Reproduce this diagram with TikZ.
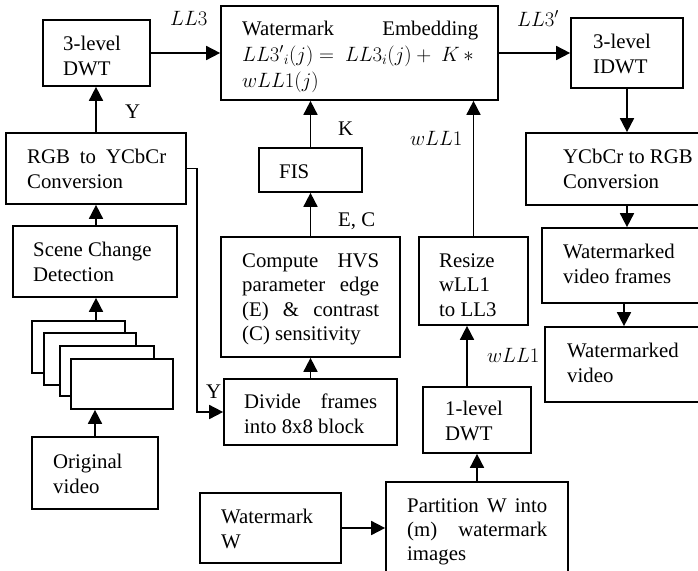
\documentclass[tikz,border=0pt]{standalone}
\usepackage{fontspec}
\setmainfont{Liberation Serif}
\usetikzlibrary{arrows.meta,calc}
\newcommand{\bx}[5]{\node[box, minimum width={#4-#2}, minimum height={#5-#3}] (#1) at ({(#2+#4)/2},{(#3+#5)/2}) {};}
\begin{document}
\begin{tikzpicture}[x=1pt,y=-1pt,
  box/.style={draw, line width=1.7pt, inner sep=0pt, fill=white},
  txt/.style={inner sep=0pt, anchor=base west, font=\fontsize{20.8}{25}\selectfont},
  arr/.style={line width=1.7pt, -{Triangle[length=14pt,width=14pt]}},
  ln/.style={line width=1.7pt}
]
\useasboundingbox (0,0) rectangle (698,570);

% boxes
\bx{dwt3}{43}{20}{150}{86}
\bx{emb}{221}{6}{498}{100}
\bx{idwt}{571}{18}{683}{88}
\bx{rgb}{6}{133}{186}{204}
\bx{scene}{13}{226}{177}{297}
\bx{ra}{32}{321}{125}{373}
\bx{rb}{44}{333}{136}{385}
\bx{rc}{60}{346}{154}{396}
\bx{rd}{71}{359}{173}{409}
\bx{orig}{32}{437}{158}{509}
\bx{fis}{259}{148}{362}{192}
\bx{hvs}{221}{237}{400}{357}
\bx{divide}{224}{379}{397}{445}
\bx{resize}{419}{237}{528}{325}
\bx{dwt1}{423}{387}{531}{453}
\bx{part}{386}{482}{568}{580}
\bx{wm}{200}{493}{341}{563}
\bx{ycbcr}{526}{133}{705}{205}
\bx{wmvf}{542}{228}{705}{303}
\bx{wmv}{545}{327}{705}{402}

% texts
\node[txt] (dwt3t) at (63,50) {\parbox[t]{150pt}{3-level\\DWT}};
\node[txt, font=\fontsize{20.8}{26}\selectfont] (embt) at (242,35) {\parbox[t]{240pt}{\makebox[236pt][s]{Watermark Embedding}\\$LL3'{}_i(j) =\ LL3_i(j) +\ K\,{\ast}$\\$wLL1(j)$}};
\node[txt] (idwtt) at (593,48) {\parbox[t]{150pt}{3-level\\IDWT}};
\node[txt] (rgbt) at (27,163) {\parbox[t]{150pt}{\makebox[139pt][s]{RGB to YCbCr}\\Conversion}};
\node[txt] (scenet) at (33,256) {\parbox[t]{150pt}{Scene Change\\Detection}};
\node[txt] (origt) at (53,468) {\parbox[t]{150pt}{Original\\video}};
\node[txt] (fist) at (279,178) {FIS};
\node[txt, font=\fontsize{20.8}{24.5}\selectfont] (hvst) at (242,267) {\parbox[t]{140pt}{\makebox[137pt][s]{Compute HVS}\\\makebox[137pt][s]{parameter edge}\\\makebox[137pt][s]{(E) \& contrast}\\(C) sensitivity}};
\node[txt] (dividet) at (244,408) {\parbox[t]{140pt}{\makebox[133pt][s]{Divide frames}\\into 8x8 block}};
\node[txt, font=\fontsize{20.8}{24.5}\selectfont] (resizet) at (439,267) {\parbox[t]{150pt}{Resize\\wLL1\\to LL3}};
\node[txt] (dwt1t) at (445,415) {\parbox[t]{150pt}{1-level\\DWT}};
\node[txt, font=\fontsize{20.8}{24}\selectfont] (partt) at (407,512) {\parbox[t]{145pt}{\makebox[140pt][s]{Partition W into}\\\makebox[140pt][s]{(m) watermark}\\images}};
\node[txt] (wmt) at (221,523) {\parbox[t]{150pt}{Watermark\\W}};
\node[txt] (ycbcrt) at (563,163) {\parbox[t]{150pt}{YCbCr to RGB\\Conversion}};
\node[txt] (wmvft) at (563,258) {\parbox[t]{150pt}{Watermarked\\video frames}};
\node[txt] (wmvt) at (567,357) {\parbox[t]{150pt}{Watermarked\\video}};

% labels
\node[txt] (lLL3) at (170,25) {$LL3$};
\node[txt] (lLL3p) at (517,26) {$LL3'$};
\node[txt] (lY1) at (125,118) {Y};
\node[txt] (lY2) at (206,398) {Y};
\node[txt] (lK) at (338,135) {K};
\node[txt] (lEC) at (338,226) {E, C};
\node[txt] (lw1) at (410,145) {$wLL1$};
\node[txt] (lw2) at (487,362) {$wLL1$};

% connectors
\draw[arr] (dwt3) -- (emb);
\draw[arr] (emb) -- (idwt);
\draw[arr] (idwt.south) -- (idwt.south |- ycbcr.north);
\draw[arr] (ycbcr.south -| idwt.south) -- (wmvf.north -| idwt.south);
\draw[arr] ($(wmvf.south -| idwt.south)+(-3,0)$) -- ($(wmv.north -| idwt.south)+(-3,0)$);
\draw[arr] (rgb.north) -- (rgb.north |- dwt3.south);
\draw[arr] (scene.north -| rgb.south) -- (rgb.south);
\draw[arr] (ra.north -| rgb.south) -- (scene.south -| rgb.south);
\draw[arr] (orig.north) -- (orig.north |- rd.south);
\draw[arr] (rgb.east) -- ++(10,0) |- (divide.west);
\draw[arr] (divide.north) -- (hvs.south);
\draw[arr] (hvs.north) -- (fis.south);
\draw[arr] (fis.north) -- (fis.north |- emb.south);
\draw[arr] (resize.north) -- (resize.north |- emb.south);
\draw[arr] ($(dwt1.north)+(-10,0)$) -- ($(dwt1.north |- resize.south)+(-10,0)$);
\draw[arr] (part.north) -- (dwt1.south);
\draw[arr] (wm.east) -- (wm.east -| part.west);
\end{tikzpicture}
\end{document}
